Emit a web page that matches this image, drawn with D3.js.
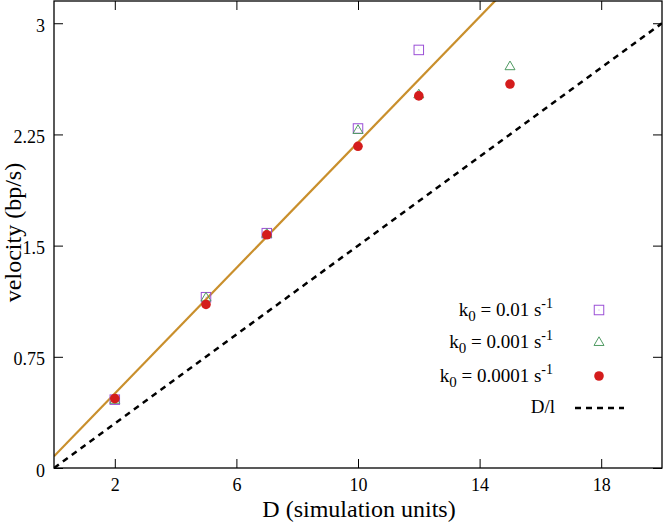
<!DOCTYPE html>
<html>
<head>
<meta charset="utf-8">
<script src="https://cdn.jsdelivr.net/npm/d3@7"></script>
<style>
  html, body { margin: 0; padding: 0; background: #fff; }
  svg { display: block; font-family: "Liberation Serif", "Times New Roman", serif; }
</style>
</head>
<body>
<svg id="chart" width="664" height="524"></svg>
<script>
// ---- data ----
const D_sq  = [2, 5, 7, 10, 12];
const v_sq  = [0.461, 1.152, 1.584, 2.29, 2.82];      // k0 = 0.01 s^-1
const D_tri = [2, 5, 7, 10, 12, 15];
const v_tri = [0.46, 1.15, 1.58, 2.28, 2.52, 2.71];   // k0 = 0.001 s^-1
const D_cir = [2, 5, 7, 10, 12, 15];
const v_cir = [0.468, 1.103, 1.573, 2.17, 2.51, 2.59]; // k0 = 0.0001 s^-1
const fitD  = [0, 20];
const fitV  = [0.079, 4.313];   // linear fit line
const dlD   = [0, 20];
const dlV   = [0, 3.0];         // D/l
const xTicks = [2, 6, 10, 14, 18];
const yTicks = [0, 0.75, 1.5, 2.25, 3];
const yTickLabels = ["0", "0.75", "1.5", "2.25", "3"];
const legendLabels = [
  {k: "0.01"}, {k: "0.001"}, {k: "0.0001"}
];

// ---- layout ----
const L = 54, R = 662, T = 1, B = 468;
const svg = d3.select("#chart");
const x = d3.scaleLinear().domain([0, 20]).range([L, R]);
const y = d3.scaleLinear().domain([0, 3.15]).range([B, T]);

const cSq = "#9b4fd6", cTri = "#4f9a62", cCir = "#d41c1c", cFit = "#c98f2c";

// clip
svg.append("defs").append("clipPath").attr("id", "clip")
  .append("rect").attr("x", L).attr("y", T).attr("width", R - L).attr("height", B - T);

// axes with inward ticks (mirrored)
const tickLen = 9;
const gx = svg.append("g").attr("transform", `translate(0,${B})`)
  .call(d3.axisBottom(x).tickValues(xTicks).tickSizeInner(-tickLen).tickSizeOuter(0).tickPadding(10));
const gxTop = svg.append("g").attr("transform", `translate(0,${T})`)
  .call(d3.axisTop(x).tickValues(xTicks).tickSizeInner(-tickLen).tickSizeOuter(0).tickFormat(""));
const gy = svg.append("g").attr("transform", `translate(${L},0)`)
  .call(d3.axisLeft(y).tickValues(yTicks).tickSizeInner(-tickLen).tickSizeOuter(0)
    .tickFormat((d, i) => yTickLabels[i]).tickPadding(9));
const gyR = svg.append("g").attr("transform", `translate(${R},0)`)
  .call(d3.axisRight(y).tickValues(yTicks).tickSizeInner(-tickLen).tickSizeOuter(0).tickFormat(""));
[gx, gxTop, gy, gyR].forEach(g => {
  g.select(".domain").remove();
  g.selectAll(".tick line").attr("stroke", "#000").attr("stroke-width", 1);
  g.selectAll(".tick text").attr("font-size", 18).attr("fill", "#000")
    .attr("font-family", "Liberation Serif, serif");
});
gx.selectAll(".tick text").attr("dy", "0.71em");
gy.selectAll(".tick text").attr("dy", "0.45em");

// lines
const plot = svg.append("g").attr("clip-path", "url(#clip)");
const lineGen = d3.line().x(d => x(d[0])).y(d => y(d[1]));
plot.append("path").datum(dlD.map((d, i) => [d, dlV[i]]))
  .attr("d", lineGen).attr("fill", "none").attr("stroke", "#000")
  .attr("stroke-width", 2.5).attr("stroke-dasharray", "6,5");
plot.append("path").datum(fitD.map((d, i) => [d, fitV[i]]))
  .attr("d", lineGen).attr("fill", "none").attr("stroke", cFit).attr("stroke-width", 2.2);

// markers
const sqS = 9.5, triS = 10, cirR = 4.8;
function square(g, cx, cy) {
  g.append("rect").attr("x", cx - sqS / 2).attr("y", cy - sqS / 2).attr("width", sqS).attr("height", sqS)
    .attr("fill", "none").attr("stroke", cSq).attr("stroke-width", 1);
  g.append("rect").attr("x", cx - 0.5).attr("y", cy - 0.5).attr("width", 1).attr("height", 1).attr("fill", cSq).attr("opacity", 0.5);
}
function triangle(g, cx, cy) {
  const h = triS * 0.866;
  g.append("path").attr("d", `M${cx},${cy - h * 0.6}L${cx + triS / 2},${cy + h * 0.4}L${cx - triS / 2},${cy + h * 0.4}Z`)
    .attr("fill", "none").attr("stroke", cTri).attr("stroke-width", 1);
}
function circle(g, cx, cy) {
  g.append("circle").attr("cx", cx).attr("cy", cy).attr("r", cirR).attr("fill", cCir);
}
const mk = svg.append("g");
D_sq.forEach((d, i) => square(mk, x(d), y(v_sq[i])));
D_tri.forEach((d, i) => triangle(mk, x(d), y(v_tri[i])));
D_cir.forEach((d, i) => circle(mk, x(d), y(v_cir[i])));

// frame
svg.append("rect").attr("x", L).attr("y", T).attr("width", R - L).attr("height", B - T)
  .attr("fill", "none").attr("stroke", "#000").attr("stroke-width", 1.3);

// axis labels
svg.append("text").attr("x", (L + R) / 2 + 1).attr("y", 517).attr("text-anchor", "middle")
  .attr("font-size", 24).text("D (simulation units)");
svg.append("text").attr("transform", `translate(21,${(T + B) / 2 - 2}) rotate(-90)`)
  .attr("text-anchor", "middle").attr("font-size", 24).text("velocity (bp/s)");

// legend
const legX = 553, symX = 599;
const rowsY = [316, 348, 381.5];
const symY = [310, 342, 376];
legendLabels.forEach((lab, i) => {
  const t = svg.append("text").attr("x", legX).attr("y", rowsY[i]).attr("text-anchor", "end").attr("font-size", 19);
  t.append("tspan").text("k");
  t.append("tspan").attr("font-size", 15).attr("dy", 5).text("0");
  t.append("tspan").attr("dy", -5).text(` = ${lab.k} s`);
  t.append("tspan").attr("font-size", 14).attr("dy", -8).text("-1");
});
square(svg, symX, symY[0]);
triangle(svg, symX, symY[1]);
circle(svg, symX, symY[2]);
svg.append("text").attr("x", 555).attr("y", 413).attr("text-anchor", "end").attr("font-size", 19).text("D/l");
svg.append("line").attr("x1", 575).attr("x2", 624).attr("y1", 408).attr("y2", 408)
  .attr("stroke", "#000").attr("stroke-width", 2.5).attr("stroke-dasharray", "6,5");
</script>
</body>
</html>
